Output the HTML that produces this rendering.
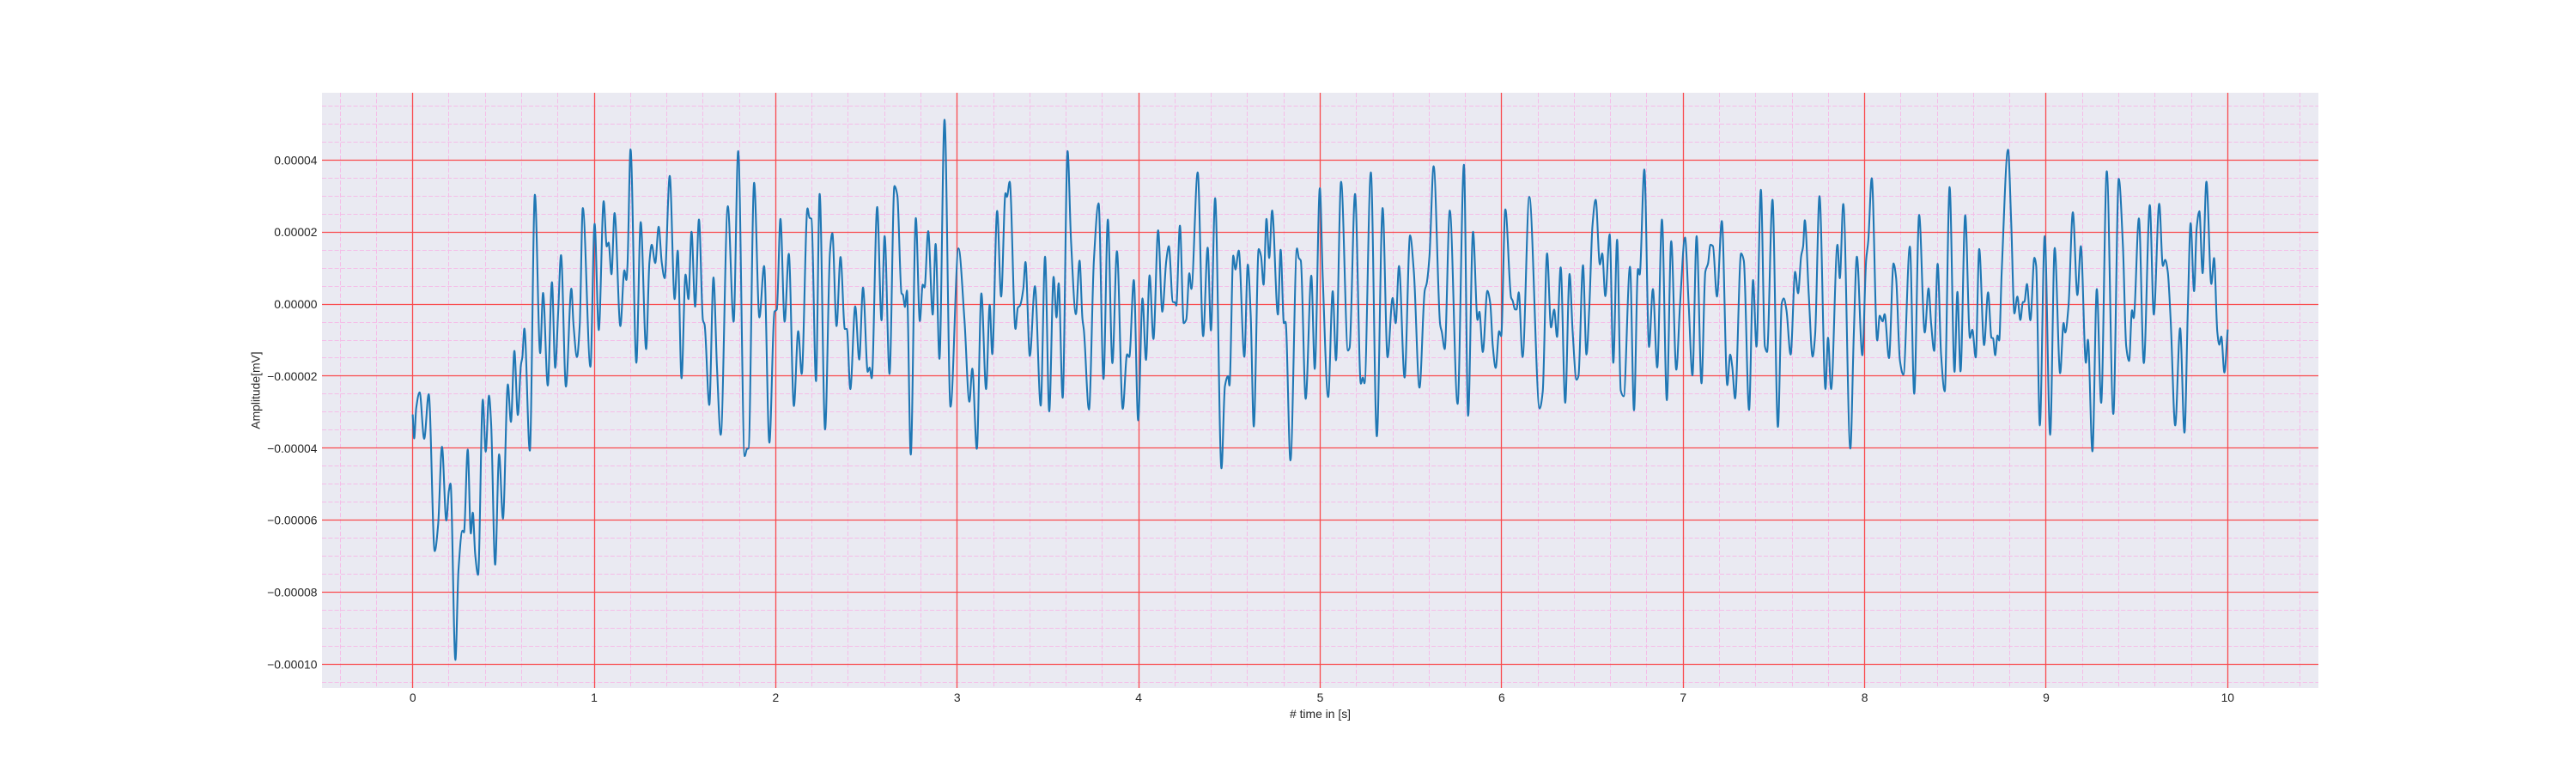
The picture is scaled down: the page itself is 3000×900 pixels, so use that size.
<!DOCTYPE html>
<html lang="en">
<head>
<meta charset="utf-8">
<title>Amplitude over time</title>
<style>
html,body{margin:0;padding:0;background:#fff;}
body{width:3000px;height:900px;overflow:hidden;}
svg{display:block;}
text{font-family:"Liberation Sans",Arial,sans-serif;fill:#262626;font-size:13.9px;}
</style>
</head>
<body>
<svg id="chart" xmlns="http://www.w3.org/2000/svg" width="3000" height="900" viewBox="0 0 3000 900"></svg>
<script>
const xTickValues = [0,1,2,3,4,5,6,7,8,9,10];
const xTickLabels = ["0","1","2","3","4","5","6","7","8","9","10"];
const yTickValues = [4e-5,2e-5,0,-2e-5,-4e-5,-6e-5,-8e-5,-10e-5];
const yTickLabels = ["0.00004","0.00002","0.00000","\u22120.00002","\u22120.00004","\u22120.00006","\u22120.00008","\u22120.00010"];
const xLimits = [-0.5,10.5];
const yLimits = [5.87e-5,-10.66e-5];
const xMinorStep = 0.2;
const yMinorStep = 0.5e-5;
const amplitudeUnit = 1e-5;
const timeSeconds = [
0,.008,.019,.038,.063,.088,.121,.140,.161,.185,
.199,.208,.235,.252,.274,.282,.303,.320,.331,.344,
.360,.386,.402,.420,.432,.454,.476,.497,.524,.541,
.560,.579,.596,.604,.615,.645,.673,.702,.718,.744,
.767,.785,.801,.817,.844,.874,.886,.905,.920,.937,
.979,1.002,1.025,1.052,1.069,1.079,1.095,1.112,1.144,1.166,
1.177,1.183,1.200,1.232,1.256,1.286,1.304,1.317,1.336,1.355,
1.372,1.388,1.416,1.443,1.460,1.481,1.503,1.519,1.536,1.556,
1.577,1.599,1.608,1.634,1.657,1.676,1.697,1.736,1.768,1.793,
1.829,1.842,1.850,1.881,1.910,1.936,1.965,1.993,2.006,2.026,
2.049,2.072,2.100,2.124,2.143,2.175,2.186,2.197,2.222,2.242,
2.272,2.299,2.312,2.335,2.357,2.381,2.392,2.411,2.438,2.460,
2.481,2.507,2.517,2.529,2.559,2.583,2.600,2.627,2.654,2.670,
2.693,2.701,2.712,2.723,2.744,2.772,2.794,2.810,2.820,2.840,
2.865,2.881,2.902,2.930,2.963,3.007,3.040,3.067,3.083,3.108,
3.133,3.159,3.179,3.193,3.220,3.242,3.266,3.274,3.289,3.321,
3.334,3.346,3.364,3.376,3.400,3.428,3.460,3.484,3.507,3.531,
3.547,3.559,3.581,3.608,3.627,3.654,3.674,3.690,3.698,3.726,
3.753,3.779,3.806,3.830,3.855,3.880,3.912,3.936,3.948,3.973,
3.997,4.021,4.040,4.060,4.081,4.107,4.130,4.152,4.166,4.188,
4.199,4.207,4.227,4.248,4.262,4.279,4.290,4.325,4.355,4.380,
4.398,4.421,4.456,4.475,4.492,4.500,4.521,4.533,4.551,4.582,
4.601,4.617,4.634,4.661,4.674,4.688,4.704,4.719,4.735,4.767,
4.782,4.800,4.809,4.836,4.872,4.882,4.893,4.920,4.951,4.970,
4.998,5.014,5.044,5.069,5.087,5.115,5.153,5.162,5.192,5.224,
5.235,5.244,5.279,5.312,5.344,5.371,5.399,5.416,5.434,5.465,
5.495,5.516,5.547,5.576,5.587,5.602,5.625,5.661,5.670,5.686,
5.714,5.757,5.792,5.815,5.842,5.867,5.877,5.896,5.921,5.937,
5.951,5.967,5.986,5.997,6.020,6.052,6.060,6.074,6.082,6.094,
6.115,6.152,6.209,6.226,6.250,6.272,6.289,6.305,6.325,6.350,
6.374,6.391,6.412,6.423,6.448,6.467,6.483,6.500,6.518,6.541,
6.554,6.571,6.595,6.615,6.636,6.656,6.672,6.707,6.729,6.751,
6.760,6.786,6.812,6.833,6.857,6.883,6.910,6.934,6.962,6.983,
7.010,7.030,7.051,7.074,7.101,7.122,7.137,7.150,7.164,7.186,
7.213,7.243,7.259,7.270,7.286,7.319,7.334,7.363,7.385,7.404,
7.428,7.450,7.462,7.492,7.522,7.543,7.554,7.569,7.592,7.617,
7.633,7.650,7.661,7.670,7.692,7.713,7.727,7.751,7.784,7.798,
7.815,7.850,7.863,7.882,7.921,7.940,7.957,7.987,8.008,8.020,
8.039,8.069,8.083,8.099,8.110,8.134,8.159,8.173,8.194,8.213,
8.249,8.273,8.300,8.331,8.352,8.366,8.383,8.402,8.421,8.441,
8.468,8.495,8.511,8.528,8.554,8.580,8.593,8.612,8.631,8.658,
8.680,8.699,8.707,8.719,8.732,8.741,8.755,8.790,8.807,8.825,
8.841,8.858,8.872,8.880,8.894,8.913,8.935,8.945,8.965,8.992,
9.022,9.047,9.077,9.096,9.105,9.123,9.147,9.172,9.191,9.219,
9.230,9.255,9.279,9.303,9.334,9.370,9.400,9.423,9.441,9.457,
9.473,9.482,9.511,9.538,9.571,9.593,9.623,9.643,9.656,9.670,
9.686,9.711,9.738,9.762,9.781,9.796,9.815,9.829,9.844,9.862,
9.883,9.910,9.925,9.943,9.954,9.965,9.982,10.0
];
const amplitudeE5 = [
-3.09,-3.73,-2.89,-2.45,-3.74,-2.50,-6.86,-6.12,-3.96,-6.01,
-5.19,-4.98,-9.88,-7.38,-6.29,-6.34,-4.04,-6.37,-5.79,-6.94,
-7.52,-2.65,-4.10,-2.54,-3.33,-7.24,-4.17,-5.96,-2.23,-3.27,
-1.30,-3.08,-1.69,-1.47,-0.68,-4.07,3.04,-1.36,0.31,-2.26,
0.61,-1.77,-0.26,1.36,-2.29,0.43,-0.59,-1.47,-0.59,2.67,
-1.74,2.23,-0.72,2.86,1.60,1.71,0.83,2.53,-0.61,0.94,
0.67,1.05,4.30,-1.63,2.28,-1.25,1.16,1.65,1.14,2.15,
1.16,0.72,3.56,0.14,1.49,-2.06,0.82,0.14,2.01,-0.07,
2.35,-0.45,-0.57,-2.80,0.74,-1.72,-3.63,2.72,-0.49,4.25,
-4.22,-4.02,-4.01,3.37,-0.37,1.06,-3.85,-0.21,-0.15,2.37,
-0.49,1.40,-2.83,-0.75,-1.94,2.66,2.40,2.37,-2.14,3.06,
-3.48,1.45,1.97,-0.61,1.31,-0.69,-0.69,-2.36,-0.06,-1.54,
0.46,-1.88,-1.76,-2.06,2.70,-0.45,1.89,-1.94,3.28,3.02,
0.30,0.26,-0.08,0.38,-4.18,2.39,-0.47,0.54,0.46,2.03,
-0.29,1.67,-1.52,5.12,-2.85,1.55,-0.45,-2.71,-1.79,-4.02,
0.30,-2.36,-0.02,-1.39,2.59,0.21,3.08,2.98,3.40,-0.69,
-0.10,-0.04,0.42,1.17,-1.44,0.50,-2.82,1.32,-2.98,0.76,
-0.37,0.58,-2.60,4.25,1.77,-0.28,1.21,-0.41,-0.73,-2.93,
1.21,2.80,-2.08,2.35,-1.64,1.47,-2.91,-1.39,-1.47,0.67,
-3.23,0.16,-1.55,0.80,-0.97,2.05,-0.21,1.21,1.61,0.06,
0.05,-0.04,2.18,-0.53,-0.43,0.86,0.42,3.66,-0.89,1.57,
-0.73,2.94,-4.56,-2.28,-2.00,-2.26,1.35,0.96,1.49,-1.46,
1.10,-0.29,-3.40,1.53,1.33,0.54,2.37,1.28,2.60,-0.29,
1.51,-0.53,-0.49,-4.34,1.55,1.28,1.21,-2.63,0.79,-1.80,
3.22,0.74,-2.58,0.36,-1.56,3.40,-1.29,-1.21,3.06,-2.21,
-2.04,-2.20,3.66,-3.67,2.67,-1.48,0.17,-0.53,1.06,-2.04,
1.91,0.90,-2.32,0.38,0.58,1.33,3.83,-0.57,-0.77,-1.25,
2.60,-2.77,3.87,-3.10,2.01,-0.44,-0.21,-1.33,0.37,0.02,
-1.17,-1.77,-0.75,-0.89,2.63,0.18,0.10,-0.15,-0.15,0.33,
-1.47,2.98,-2.90,-2.44,1.41,-0.65,-0.15,-0.91,1.02,-2.74,
0.84,-0.77,-2.10,-2.00,1.08,-1.40,-0.06,2.17,2.90,1.10,
1.41,0.22,1.94,-1.63,1.79,-2.40,-2.56,1.04,-2.95,0.98,
0.82,3.74,-1.19,0.42,-1.76,2.35,-2.67,1.75,-1.82,0.02,
1.85,0.02,-1.98,1.89,-2.20,0.90,1.13,1.65,1.61,0.21,
2.31,-2.25,-1.40,-1.72,-2.62,1.41,1.21,-2.94,0.67,-1.18,
3.18,-1.17,-1.33,2.90,-3.41,0.02,0.16,-0.17,-1.40,0.90,
0.30,1.33,1.61,2.33,0.26,-1.46,-0.85,3.00,-2.36,-0.93,
-2.36,1.65,0.72,2.78,-4.01,-0.85,1.32,-1.42,1.21,1.77,
3.50,-1.01,-0.32,-0.48,-0.28,-1.50,1.13,0.74,-1.56,-1.96,
1.60,-2.49,2.48,-0.79,0.44,-0.53,-1.30,1.12,-1.40,-2.42,
3.25,-1.88,0.34,-1.87,2.47,-0.94,-0.71,-1.48,1.53,-1.14,
0.33,-0.94,-0.94,-1.42,-0.87,-1.01,0.90,4.29,2.33,-0.26,
0.21,-0.44,0.06,0.06,0.56,-0.45,1.29,1.06,-3.37,1.89,
-3.63,1.56,-1.92,-0.52,-0.79,-0.06,2.55,0.25,1.61,-1.63,
-0.99,-4.09,0.42,-2.74,3.69,-3.05,3.48,1.61,-1.17,-1.58,
-0.17,-0.39,2.38,-1.64,2.75,-0.29,2.79,1.06,1.23,0.90,
-0.45,-3.37,-0.67,-3.57,-0.06,2.25,0.36,2.09,2.58,0.86,
3.40,0.56,1.28,-0.77,-1.13,-0.90,-1.90,-0.73
];

const plotLeft = 375, plotRight = 2700, plotTop = 108, plotBottom = 801;
const SVGNS = "http://www.w3.org/2000/svg";
const chart = document.getElementById("chart");

function xScale(t) {
  return plotLeft + (t - xLimits[0]) / (xLimits[1] - xLimits[0]) * (plotRight - plotLeft);
}
function yScale(v) {
  return plotTop + (yLimits[0] - v) / (yLimits[0] - yLimits[1]) * (plotBottom - plotTop);
}
function snap(p) {
  return Math.floor(p) + 0.5;
}
function make(tag, attrs, parent) {
  const el = document.createElementNS(SVGNS, tag);
  for (const k in attrs) el.setAttribute(k, attrs[k]);
  parent.appendChild(el);
  return el;
}

const plotArea = make("rect", {x: plotLeft, y: plotTop, width: plotRight - plotLeft, height: plotBottom - plotTop, fill: "#eaeaf2"}, chart);



const minorGrid = make("g", {stroke: "#f5bde8", "stroke-width": 1, "stroke-dasharray": "5.1 2.2", fill: "none"}, chart);


const firstMinorX = Math.ceil(xLimits[0] / xMinorStep);
const lastMinorX = Math.floor(xLimits[1] / xMinorStep);
for (let i = firstMinorX; i <= lastMinorX; i++) {
  if (i % 5 === 0) continue;
  const px = snap(xScale(i * xMinorStep));
  const line = make("line", {x1: px, x2: px, y1: plotTop, y2: plotBottom}, minorGrid);
  
  
}
const firstMinorY = Math.ceil(yLimits[1] / yMinorStep);
const lastMinorY = Math.floor(yLimits[0] / yMinorStep);
for (let i = firstMinorY; i <= lastMinorY; i++) {
  if (i % 4 === 0) continue;
  const py = snap(yScale(i * yMinorStep));
  const line = make("line", {x1: plotLeft, x2: plotRight, y1: py, y2: py}, minorGrid);
  
  
}

const majorGrid = make("g", {stroke: "#f94a4d", "stroke-width": 1.3, fill: "none"}, chart);


xTickValues.forEach(function (t) {
  const px = snap(xScale(t));
  const line = make("line", {x1: px, x2: px, y1: plotTop, y2: plotBottom}, majorGrid);
  
  
});
yTickValues.forEach(function (v) {
  const py = snap(yScale(v));
  const line = make("line", {x1: plotLeft, x2: plotRight, y1: py, y2: py}, majorGrid);
  
  
});

function buildMonotonePath(xs, ys) {
  const n = Math.min(xs.length, ys.length);
  const secants = [], slopes = [];
  for (let i = 0; i < n - 1; i++) secants.push((ys[i + 1] - ys[i]) / (xs[i + 1] - xs[i]));
  slopes.push(secants[0]);
  for (let i = 1; i < n - 1; i++) {
    const a = secants[i - 1], b = secants[i];
    slopes.push(a * b <= 0 ? 0 : 2 * a * b / (a + b));
  }
  slopes.push(secants[n - 2]);
  let d = "M" + xs[0].toFixed(2) + " " + ys[0].toFixed(2);
  for (let i = 0; i < n - 1; i++) {
    const h = (xs[i + 1] - xs[i]) / 3;
    d += "C" + (xs[i] + h).toFixed(2) + " " + (ys[i] + slopes[i] * h).toFixed(2) + " " +
         (xs[i + 1] - h).toFixed(2) + " " + (ys[i + 1] - slopes[i + 1] * h).toFixed(2) + " " +
         xs[i + 1].toFixed(2) + " " + ys[i + 1].toFixed(2);
  }
  return d;
}
const signalX = timeSeconds.map(xScale);
const signalY = amplitudeE5.map(function (a) { return yScale(a * amplitudeUnit); });
const signal = make("path", {d: buildMonotonePath(signalX, signalY), fill: "none", stroke: "#1f77b4", "stroke-width": 2.08, "stroke-linejoin": "round", "stroke-linecap": "square"}, chart);



xTickValues.forEach(function (t, i) {
  const label = make("text", {x: xScale(t), y: 817, "text-anchor": "middle"}, chart);
  label.textContent = xTickLabels[i];
  
  
});
yTickValues.forEach(function (v, i) {
  const label = make("text", {x: 369.5, y: yScale(v) + 5, "text-anchor": "end"}, chart);
  label.textContent = yTickLabels[i];
  
  
});

const xAxisTitle = make("text", {x: 1537.5, y: 836, "text-anchor": "middle"}, chart);
xAxisTitle.textContent = "# time in [s]";



const yAxisTitle = make("text", {x: 0, y: 0, "text-anchor": "middle", transform: "translate(302.5 454.5) rotate(-90)"}, chart);
yAxisTitle.textContent = "Amplitude[mV]";


</script>
</body>
</html>
